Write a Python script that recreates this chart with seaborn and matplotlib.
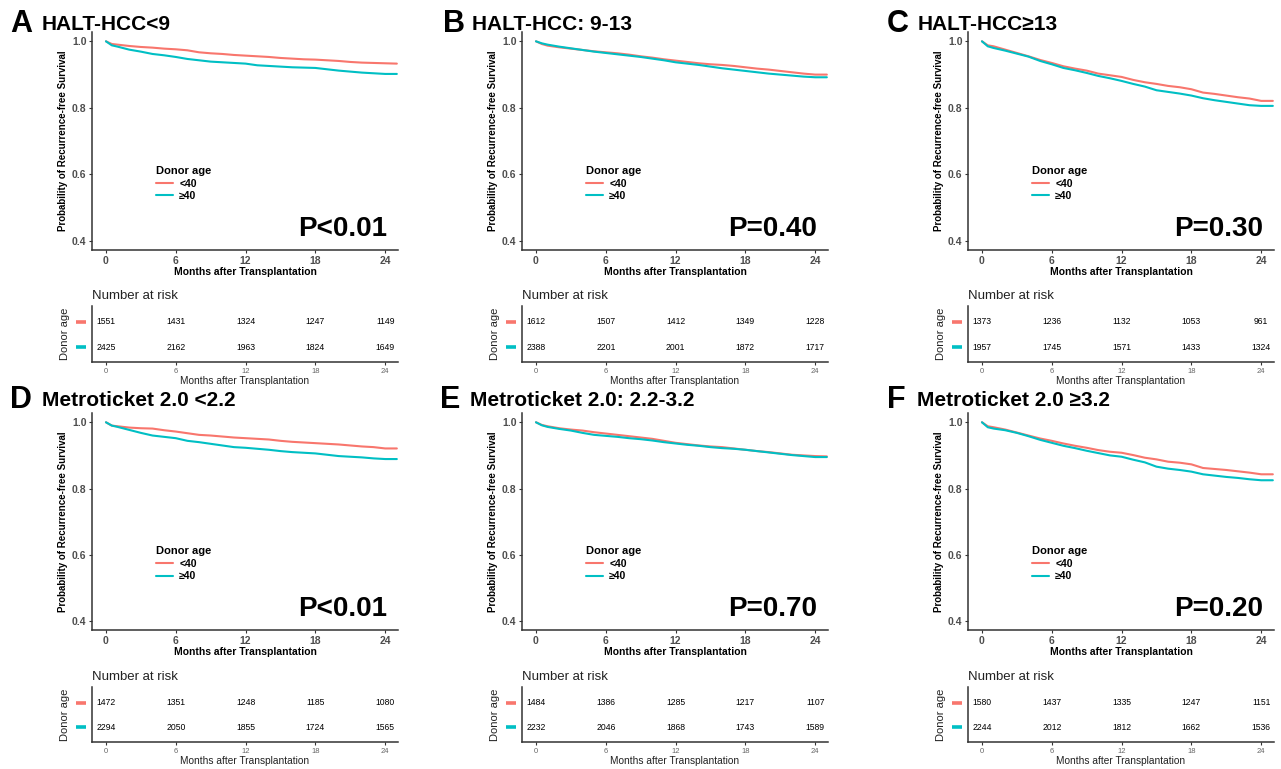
import numpy as np
import pandas as pd
import matplotlib
matplotlib.use("Agg")
import matplotlib.pyplot as plt
import seaborn as sns
from matplotlib.transforms import blended_transform_factory

# ---------------- data ----------------
MONTHS = [0, 0.5, 1, 2, 3, 4, 5, 6, 7, 8, 9, 10, 11, 12, 13, 14, 15, 16, 17, 18,
          19, 20, 21, 22, 23, 24, 25]
GROUPS = ["<40", "≥40"]
PANEL_LETTERS = ["A", "B", "C", "D", "E", "F"]
PANEL_TITLES = ["HALT-HCC<9", "HALT-HCC: 9-13", "HALT-HCC≥13",
                "Metroticket 2.0 <2.2", "Metroticket 2.0: 2.2-3.2", "Metroticket 2.0 ≥3.2"]
P_VALUES = ["P<0.01", "P=0.40", "P=0.30", "P<0.01", "P=0.70", "P=0.20"]

SURV_A_LT40 = [1.0, 0.992, 0.99, 0.986, 0.983, 0.981, 0.978, 0.976, 0.973, 0.967, 0.964, 0.962, 0.959, 0.957,
               0.955, 0.953, 0.950, 0.948, 0.946, 0.945, 0.943, 0.941, 0.938, 0.936, 0.935, 0.934, 0.933]
SURV_A_GE40 = [1.0, 0.988, 0.984, 0.975, 0.969, 0.962, 0.958, 0.953, 0.947, 0.943, 0.939, 0.937, 0.935, 0.933,
               0.928, 0.926, 0.924, 0.922, 0.921, 0.920, 0.916, 0.912, 0.909, 0.906, 0.904, 0.902, 0.902]
SURV_B_LT40 = [1.0, 0.992, 0.987, 0.982, 0.978, 0.974, 0.970, 0.967, 0.964, 0.960, 0.955, 0.951, 0.946, 0.942,
               0.938, 0.934, 0.931, 0.929, 0.926, 0.922, 0.918, 0.915, 0.911, 0.907, 0.903, 0.900, 0.900]
SURV_B_GE40 = [1.0, 0.994, 0.990, 0.984, 0.979, 0.974, 0.969, 0.965, 0.961, 0.957, 0.953, 0.948, 0.943, 0.937,
               0.933, 0.929, 0.924, 0.919, 0.915, 0.911, 0.907, 0.903, 0.900, 0.897, 0.894, 0.892, 0.892]
SURV_C_LT40 = [1.0, 0.988, 0.985, 0.975, 0.965, 0.955, 0.944, 0.935, 0.925, 0.918, 0.912, 0.903, 0.898, 0.893,
               0.884, 0.877, 0.872, 0.866, 0.862, 0.856, 0.846, 0.842, 0.837, 0.832, 0.828, 0.821, 0.821]
SURV_C_GE40 = [1.0, 0.985, 0.980, 0.972, 0.963, 0.954, 0.941, 0.931, 0.920, 0.913, 0.905, 0.896, 0.889, 0.881,
               0.872, 0.864, 0.853, 0.848, 0.843, 0.837, 0.829, 0.823, 0.818, 0.813, 0.808, 0.806, 0.806]
SURV_D_LT40 = [1.0, 0.990, 0.988, 0.984, 0.982, 0.981, 0.976, 0.972, 0.967, 0.962, 0.960, 0.957, 0.954, 0.952,
               0.950, 0.948, 0.944, 0.941, 0.939, 0.937, 0.935, 0.933, 0.930, 0.927, 0.925, 0.921, 0.921]
SURV_D_GE40 = [1.0, 0.990, 0.986, 0.977, 0.968, 0.960, 0.956, 0.952, 0.944, 0.940, 0.935, 0.930, 0.925, 0.923,
               0.920, 0.917, 0.913, 0.910, 0.908, 0.906, 0.902, 0.898, 0.896, 0.894, 0.891, 0.889, 0.889]
SURV_E_LT40 = [1.0, 0.992, 0.988, 0.982, 0.978, 0.975, 0.970, 0.966, 0.962, 0.958, 0.954, 0.950, 0.944, 0.938,
               0.934, 0.930, 0.927, 0.925, 0.921, 0.917, 0.913, 0.910, 0.906, 0.902, 0.900, 0.898, 0.897]
SURV_E_GE40 = [1.0, 0.991, 0.986, 0.980, 0.975, 0.968, 0.962, 0.959, 0.956, 0.952, 0.949, 0.945, 0.940, 0.936,
               0.932, 0.929, 0.925, 0.922, 0.920, 0.917, 0.913, 0.909, 0.905, 0.901, 0.898, 0.895, 0.895]
SURV_F_LT40 = [1.0, 0.988, 0.985, 0.978, 0.969, 0.960, 0.951, 0.944, 0.936, 0.929, 0.923, 0.916, 0.911, 0.908,
               0.901, 0.893, 0.888, 0.881, 0.878, 0.873, 0.862, 0.859, 0.856, 0.852, 0.848, 0.843, 0.843]
SURV_F_GE40 = [1.0, 0.985, 0.981, 0.976, 0.968, 0.958, 0.947, 0.938, 0.929, 0.922, 0.914, 0.907, 0.900, 0.896,
               0.887, 0.879, 0.866, 0.860, 0.856, 0.851, 0.843, 0.839, 0.835, 0.832, 0.828, 0.825, 0.825]

RISK_TIMES = [0, 6, 12, 18, 24]
RISK_A_LT40 = [1551, 1431, 1324, 1247, 1149]
RISK_A_GE40 = [2425, 2162, 1963, 1824, 1649]
RISK_B_LT40 = [1612, 1507, 1412, 1349, 1228]
RISK_B_GE40 = [2388, 2201, 2001, 1872, 1717]
RISK_C_LT40 = [1373, 1236, 1132, 1053, 961]
RISK_C_GE40 = [1957, 1745, 1571, 1433, 1324]
RISK_D_LT40 = [1472, 1351, 1248, 1185, 1080]
RISK_D_GE40 = [2294, 2050, 1855, 1724, 1565]
RISK_E_LT40 = [1484, 1386, 1285, 1217, 1107]
RISK_E_GE40 = [2232, 2046, 1868, 1743, 1589]
RISK_F_LT40 = [1580, 1437, 1335, 1247, 1151]
RISK_F_GE40 = [2244, 2012, 1812, 1662, 1536]

SURV = [(SURV_A_LT40, SURV_A_GE40), (SURV_B_LT40, SURV_B_GE40), (SURV_C_LT40, SURV_C_GE40),
        (SURV_D_LT40, SURV_D_GE40), (SURV_E_LT40, SURV_E_GE40), (SURV_F_LT40, SURV_F_GE40)]
RISK = [(RISK_A_LT40, RISK_A_GE40), (RISK_B_LT40, RISK_B_GE40), (RISK_C_LT40, RISK_C_GE40),
        (RISK_D_LT40, RISK_D_GE40), (RISK_E_LT40, RISK_E_GE40), (RISK_F_LT40, RISK_F_GE40)]

# ---------------- style ----------------
RED = "#F8766D"
CYAN = "#00BFC4"
AXC = "#333333"
TICKC = "#4D4D4D"

sns.set_style("ticks")
plt.rcParams["font.family"] = ["Liberation Sans", "DejaVu Sans"]
plt.rcParams["text.color"] = "black"
plt.rcParams["axes.labelcolor"] = "black"

W, H = 1281, 769
fig = plt.figure(figsize=(W / 100, H / 100), dpi=100)


def rect(left, top, width, bottom):
    return [left / W, 1 - bottom / H, width / W, (bottom - top) / H]


COL_LEFT = [92, 522, 968]
AX_W = 306
KM_ROWS = [(32, 250), (413, 630)]
TAB_ROWS = [(306, 362), (687, 742)]
LETTER_X = [[10, 443, 887], [10, 440, 887]]
TITLE_X = [[42, 472, 918], [42, 470, 917]]
HEAD_Y = [24, 400]

for i in range(6):
    r, c = divmod(i, 3)
    left = COL_LEFT[c]
    # ---- KM plot ----
    ax = fig.add_axes(rect(left, KM_ROWS[r][0], AX_W, KM_ROWS[r][1]))
    df = pd.DataFrame({
        "month": MONTHS * 2,
        "surv": list(SURV[i][0]) + list(SURV[i][1]),
        "Donor age": [GROUPS[0]] * len(MONTHS) + [GROUPS[1]] * len(MONTHS),
    })
    sns.lineplot(data=df, x="month", y="surv", hue="Donor age", hue_order=GROUPS,
                 palette=[RED, CYAN], estimator=None, sort=False, linewidth=1.5, ax=ax)
    ax.set_xlim(-1.2, 25.1)
    ax.set_ylim(0.373, 1.028)
    ax.set_xticks([0, 6, 12, 18, 24])
    ax.set_yticks([0.4, 0.6, 0.8, 1.0])
    ax.set_yticklabels(["0.4", "0.6", "0.8", "1.0"])
    ax.tick_params(axis="both", labelsize=7.5, colors=AXC, labelcolor=TICKC, length=2.5, width=0.8, pad=1.5)
    for lab in ax.get_xticklabels() + ax.get_yticklabels():
        lab.set_fontweight("bold")
    sns.despine(ax=ax)
    for s in ["left", "bottom"]:
        ax.spines[s].set_color(AXC)
        ax.spines[s].set_linewidth(1.1)
    ax.set_xlabel("Months after Transplantation", fontsize=7.5, fontweight="bold", labelpad=1)
    ax.set_ylabel("Probability of Recurrence-free Survival", fontsize=7, fontweight="bold", labelpad=3)
    sns.move_legend(ax, "center left", bbox_to_anchor=(0.21, 0.305), frameon=False,
                    title="Donor age", fontsize=7.5, title_fontsize=8, handlelength=1.6,
                    labelspacing=0.25, borderpad=0, borderaxespad=0, handletextpad=0.6)
    leg = ax.get_legend()
    leg.get_title().set_fontweight("bold")
    leg._legend_box.align = "left"
    for t in leg.get_texts():
        t.set_fontweight("bold")
    for ln in leg.get_lines():
        ln.set_linewidth(1.5)
    ax.text(0.964, 0.095, P_VALUES[i], transform=ax.transAxes, ha="right", va="center",
            fontsize=20, fontweight="bold", color="black")

    # ---- panel letter and title ----
    fig.text(LETTER_X[r][c] / W, 1 - HEAD_Y[r] / H, PANEL_LETTERS[i], fontsize=22,
             fontweight="bold", ha="left", va="center", color="black")
    fig.text(TITLE_X[r][c] / W, 1 - HEAD_Y[r] / H, PANEL_TITLES[i], fontsize=15,
             fontweight="bold", ha="left", va="center", color="black")

    # ---- risk table ----
    tx = fig.add_axes(rect(left, TAB_ROWS[r][0], AX_W, TAB_ROWS[r][1]))
    tx.set_xlim(-1.2, 25.1)
    tx.set_ylim(2.6, 0.36)
    for row, (vals, col) in enumerate(zip(RISK[i], [RED, CYAN]), start=1):
        for t, v in zip(RISK_TIMES, vals):
            tx.text(t, row, str(v), ha="center", va="center", fontsize=6.2, color="black")
        trans = blended_transform_factory(tx.transAxes, tx.transData)
        tx.plot([-0.052, -0.02], [row, row], transform=trans, color=col, linewidth=2.6,
                solid_capstyle="butt", clip_on=False)
    tx.set_xticks(RISK_TIMES)
    tx.set_yticks([])
    tx.tick_params(axis="x", labelsize=5.5, colors=AXC, labelcolor="#666666", length=2.5, width=0.8, pad=1.5)
    sns.despine(ax=tx)
    for s in ["left", "bottom"]:
        tx.spines[s].set_color(AXC)
        tx.spines[s].set_linewidth(1.1)
    tx.set_xlabel("Months after Transplantation", fontsize=7.3, labelpad=1, color="#222222")
    tx.set_ylabel("Donor age", fontsize=8, labelpad=16, color="#222222")
    tx.set_title("Number at risk", loc="left", fontsize=9.5, pad=5, color="#222222")

fig.savefig("out.png", dpi=100, facecolor="white")
